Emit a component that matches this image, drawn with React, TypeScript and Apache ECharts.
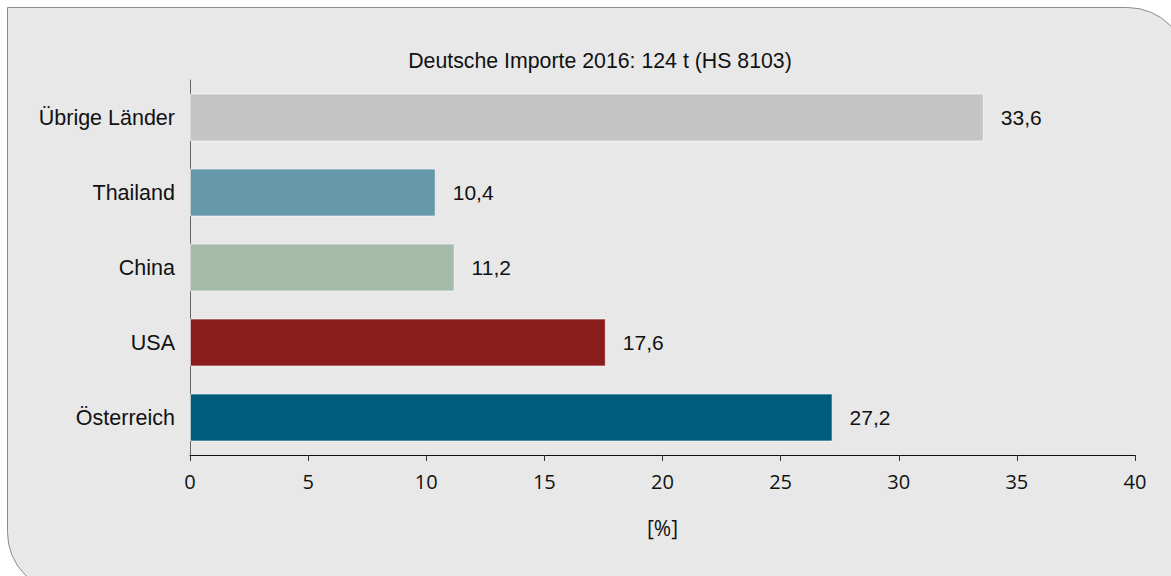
import React, { useEffect, useRef } from "react";
import * as echarts from "echarts";

const categories = ["Österreich", "USA", "China", "Thailand", "Übrige Länder"];
const values = [27.2, 17.6, 11.2, 10.4, 33.6];
const colors = ["#005c7a", "#8b1c1c", "#a4bbaa", "#6598a8", "#c4c5c4"];
const titleText = "Deutsche Importe 2016: 124 t (HS 8103)";
const axisName = "[%]";

export default function App() {
  const ref = useRef<HTMLDivElement>(null);
  useEffect(() => {
    if (!ref.current) return;
    const chart = echarts.init(ref.current, null, { renderer: "svg" });
    const font = "'Liberation Sans', Arial, sans-serif";
    const tickFont = "'Open Sans', 'Noto Sans', sans-serif";
    chart.setOption({
      animation: false,
      textStyle: { fontFamily: font },
      graphic: [
        {
          type: "rect",
          z: -10,
          shape: { x: 7.5, y: 7.5, width: 1180, height: 585, r: [0, 60, 0, 60] },
          style: { fill: "#e8e8e8", stroke: "#8c8c8c", lineWidth: 1 },
        },
      ],
      title: {
        text: titleText,
        left: 595,
        top: 45,
        textAlign: "center",
        textStyle: { fontFamily: font, fontSize: 21.3, fontWeight: "normal", color: "#111" },
      },
      grid: { left: 190, right: 36, top: 80, bottom: 121, containLabel: false },
      xAxis: {
        type: "value",
        min: 0,
        max: 40,
        interval: 5,
        name: axisName,
        nameLocation: "middle",
        nameGap: 62,
        nameTextStyle: { fontFamily: tickFont, fontSize: 21, color: "#111" },
        axisLine: { show: true, lineStyle: { color: "#111", width: 1 } },
        axisTick: { show: true, length: 6, lineStyle: { color: "#333" } },
        axisLabel: { fontFamily: tickFont, fontSize: 20, color: "#111", margin: 16 },
        splitLine: { show: false },
      },
      yAxis: {
        type: "category",
        data: categories,
        axisLine: { show: true, lineStyle: { color: "#666", width: 1 } },
        axisTick: { show: false },
        axisLabel: { fontFamily: font, fontSize: 21.5, color: "#111", margin: 15 },
      },
      series: [
        {
          type: "bar",
          data: values.map((v, i) => ({ value: v, itemStyle: { color: colors[i] } })),
          barWidth: "64%",
          itemStyle: { borderColor: "rgba(255,255,255,0.6)", borderWidth: 1 },
          label: {
            show: true,
            position: "right",
            distance: 17,
            fontFamily: font,
            fontSize: 21,
            color: "#111",
            formatter: (p: any) => String(p.value).replace(".", ","),
          },
        },
      ],
    });
    return () => chart.dispose();
  }, []);
  return (
    <div
      ref={ref}
      style={{ position: "absolute", left: 0, top: 0, width: 1171, height: 576 }}
    />
  );
}
